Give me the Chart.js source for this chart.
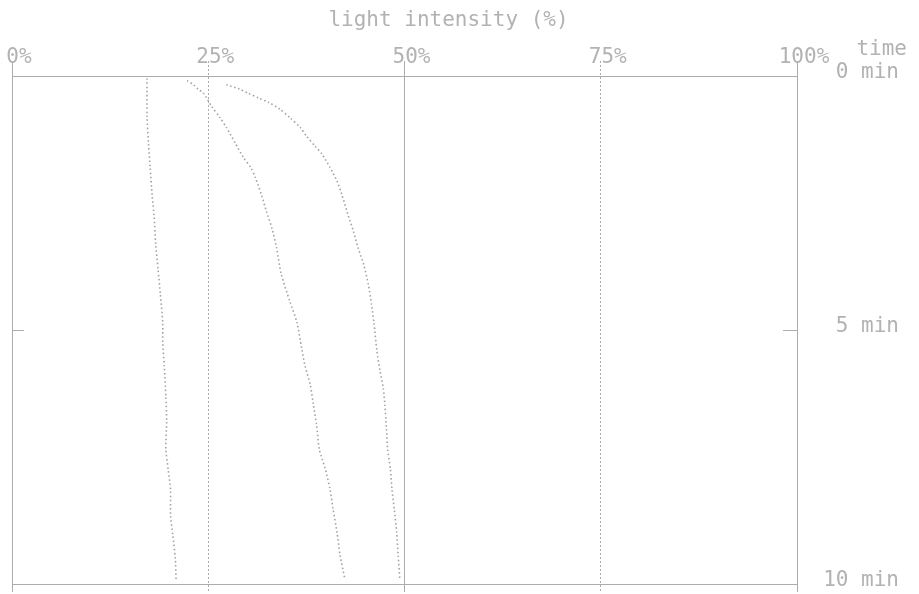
<!DOCTYPE html>
<html>
<head>
<meta charset="utf-8">
<script src="https://cdn.jsdelivr.net/npm/chart.js@4/dist/chart.umd.min.js"></script>
<style>
  html, body { margin: 0; padding: 0; background: #fff; }
  #wrap { width: 919px; height: 594px; position: relative; }
</style>
</head>
<body>
<div id="wrap"><canvas id="c"></canvas></div>
<script>
// Axis ticks
const percentTicks = [0, 25, 50, 75, 100];
const timeTicks = [0, 5, 10];

// Curve A (left): time in minutes, light intensity in %
const timeA  = [0.05, 0.8, 1.35, 1.8, 2.35, 2.75, 3.3, 3.8, 4.3, 4.85, 5.25, 5.7, 6.3, 6.8, 7.35, 7.75, 8.15, 8.65, 9.05, 9.5, 9.9];
const lightA = [17.2, 17.2, 17.4, 17.6, 17.85, 18.1, 18.3, 18.6, 18.9, 19.2, 19.2, 19.4, 19.6, 19.7, 19.6, 19.9, 20.2, 20.2, 20.5, 20.8, 20.9];

// Curve B (middle)
const timeB  = [0.09, 0.17, 0.26, 0.34, 0.59, 0.82, 1.01, 1.31, 1.61, 1.8, 2.0, 2.35, 2.66, 2.99, 3.38, 3.9, 4.44, 4.85, 5.36, 5.69, 6.08, 6.48, 6.87, 7.35, 7.73, 8.13, 8.53, 8.98, 9.44, 9.9];
const lightB = [22.3, 23.1, 23.7, 24.4, 25.4, 26.5, 27.3, 28.4, 29.5, 30.4, 31.0, 31.8, 32.4, 33.1, 33.7, 34.3, 35.4, 36.3, 36.9, 37.3, 38.0, 38.4, 38.8, 39.15, 39.9, 40.5, 40.9, 41.4, 41.8, 42.4];

// Curve C (right)
const timeC  = [0.17, 0.26, 0.34, 0.44, 0.52, 0.65, 0.82, 1.01, 1.18, 1.38, 1.54, 1.8, 2.07, 2.35, 2.73, 3.06, 3.39, 3.71, 4.11, 4.5, 4.85, 5.43, 5.82, 6.15, 6.48, 6.94, 7.35, 7.73, 8.13, 8.53, 8.98, 9.44, 9.9];
const lightC = [27.3, 29.0, 30.1, 31.5, 32.7, 34.1, 35.4, 36.7, 37.5, 38.6, 39.5, 40.5, 41.4, 42.05, 42.8, 43.5, 44.1, 44.8, 45.4, 45.8, 46.1, 46.5, 46.9, 47.3, 47.5, 47.7, 47.85, 48.2, 48.4, 48.7, 49.0, 49.2, 49.4];

const TEXT = '#b2b2b2';
const LINE = '#acacac';
const DOTS = '#a2a2a2';
const FAMILY = "'DejaVu Sans Mono', 'Liberation Mono', monospace";
const FONT = { family: FAMILY, size: 21, lineHeight: 1.2 };

const toPoints = (times, values) => times.map((t, i) => ({ x: values[i], y: t }));
const quarterDots = ctx => (ctx.tick && (ctx.tick.value === 25 || ctx.tick.value === 75)) ? [2, 2] : [];
const fixedTicks = list => scale => { scale.ticks = list.map(v => ({ value: v })); };

const curve = (times, values) => ({
  data: toPoints(times, values),
  showLine: true,
  borderColor: DOTS,
  borderWidth: 1.6,
  borderDash: [1.5, 2.6],
  pointRadius: 0,
  tension: 0.25,
  fill: false
});

// Inward time ticks on both frame sides, the axis caption and the "time" caption
const frameExtras = {
  id: 'frameExtras',
  afterDraw(chart) {
    const { ctx, chartArea: a, scales: { x, y } } = chart;
    ctx.save();
    ctx.strokeStyle = LINE;
    ctx.lineWidth = 1;
    timeTicks.forEach(v => {
      const py = Math.round(y.getPixelForValue(v)) + 0.5;
      ctx.beginPath();
      ctx.moveTo(a.left, py); ctx.lineTo(a.left + 12, py);
      ctx.moveTo(a.right - 14, py); ctx.lineTo(a.right, py);
      ctx.stroke();
    });
    ctx.fillStyle = TEXT;
    ctx.font = `21px ${FAMILY}`;
    ctx.textBaseline = 'middle';
    ctx.textAlign = 'center';
    ctx.fillText('light intensity (%)', (x.left + x.right) / 2 + 44, 21);
    ctx.textAlign = 'right';
    ctx.fillText('time', y.right + 8, 50);
    ctx.restore();
  }
};

new Chart(document.getElementById('c'), {
  type: 'scatter',
  data: {
    datasets: [curve(timeA, lightA), curve(timeB, lightB), curve(timeC, lightC)]
  },
  options: {
    responsive: true,
    maintainAspectRatio: false,
    animation: false,
    layout: { padding: { left: 12, right: 20, top: 0, bottom: 2 } },
    plugins: { legend: { display: false }, tooltip: { enabled: false } },
    scales: {
      x: {
        type: 'linear', position: 'top', min: 0, max: 100,
        afterBuildTicks: fixedTicks(percentTicks),
        ticks: { callback: v => v + '%', color: TEXT, font: FONT, padding: -9, labelOffset: 7, maxRotation: 0, autoSkip: false },
        grid: { color: LINE, lineWidth: 1, tickLength: 15, tickColor: LINE, tickBorderDash: quarterDots },
        border: { display: true, color: LINE, width: 1, dash: quarterDots },
        afterFit: s => { s.height = 76; s.paddingLeft = 0; s.paddingRight = 0; }
      },
      x2: {
        type: 'linear', position: 'bottom', min: 0, max: 100,
        afterBuildTicks: fixedTicks(percentTicks),
        ticks: { display: false },
        grid: { drawOnChartArea: false, tickLength: 8, color: LINE, tickColor: LINE, tickBorderDash: quarterDots },
        border: { display: true, color: LINE, width: 1 },
        afterFit: s => { s.height = 8; s.paddingLeft = 0; s.paddingRight = 0; }
      },
      y: {
        type: 'linear', position: 'right', reverse: true, min: 0, max: 10,
        afterBuildTicks: fixedTicks(timeTicks),
        ticks: { callback: v => v + ' min', color: TEXT, font: FONT, crossAlign: 'far', labelOffset: -3, padding: 0 },
        grid: { display: false, drawTicks: false },
        border: { display: true, color: LINE, width: 1 },
        afterFit: s => { s.width = 102; s.paddingTop = 0; s.paddingBottom = 0; }
      }
    }
  },
  plugins: [frameExtras]
});
</script>
</body>
</html>
